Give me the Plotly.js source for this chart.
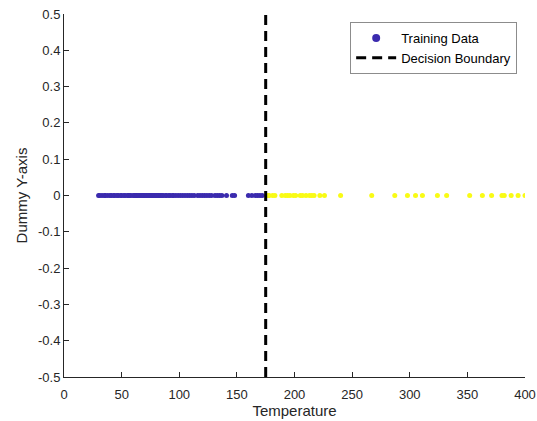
<!DOCTYPE html>
<html>
<head>
<meta charset="utf-8">
<script src="https://cdn.plot.ly/plotly-3.0.1.min.js"></script>
<style>html,body{margin:0;padding:0;background:#fff;}#chart{width:537px;height:421px;}</style>
</head>
<body>
<div id="chart"></div>
<script>
// Training data (temperature), class 0 (blue) and class 1 (yellow)
var tempClass0 = [30, 31, 33, 35, 36, 38, 40, 41, 43, 44, 46, 47, 49, 50, 52, 53, 55, 56, 57, 58, 60, 61, 62, 63, 64, 65, 66, 67, 68, 69, 70, 71, 72, 73, 74, 75, 76, 77, 78, 79, 80, 81, 82, 83, 84, 85, 86, 88, 89, 91, 92, 94, 95, 97, 99, 101, 103, 105, 107, 109, 111, 113, 116, 118, 120, 122, 124, 126, 128, 131, 133, 135, 137, 141, 146, 148, 160, 163, 166, 168, 170, 172];
var tempClass1 = [177, 178, 181, 183, 189, 192, 194, 196, 199, 201, 205, 207, 210, 213, 215, 217, 222, 226, 240, 267, 287, 298, 305, 311, 324, 332, 352, 363, 371, 380, 382, 388, 394, 400];
var decisionBoundary = 175;
var boundaryY = [-0.5, 0.5];
var xTicks = [0, 50, 100, 150, 200, 250, 300, 350, 400];
var yTicks = [-0.5, -0.4, -0.3, -0.2, -0.1, 0, 0.1, 0.2, 0.3, 0.4, 0.5];
var yTickText = ['-0.5', '-0.4', '-0.3', '-0.2', '-0.1', '0', '0.1', '0.2', '0.3', '0.4', '0.5'];

var blue = '#3B2BAE', yellow = '#F9FB15', axisCol = '#262626';
var zeros0 = tempClass0.map(function(){return 0;});
var zeros1 = tempClass1.map(function(){return 0;});

var traces = [
  {x: tempClass0, y: zeros0, type: 'scatter', mode: 'markers', showlegend: false,
   marker: {color: blue, size: 5}, hoverinfo: 'x'},
  {x: tempClass1, y: zeros1, type: 'scatter', mode: 'markers', showlegend: false,
   marker: {color: yellow, size: 5}, hoverinfo: 'x'},
  {x: [null], y: [null], type: 'scatter', mode: 'markers', name: 'Training Data',
   marker: {color: blue, size: 8}},
  {x: [decisionBoundary, decisionBoundary], y: boundaryY, type: 'scatter', mode: 'lines',
   name: 'Decision Boundary', line: {color: '#000', width: 3, dash: '10px,6px'}}
];

var layout = {
  width: 537, height: 421,
  margin: {l: 64, r: 12, t: 14, b: 44},
  paper_bgcolor: '#fff', plot_bgcolor: '#fff',
  font: {family: 'Liberation Sans, Arial, sans-serif', size: 13, color: axisCol},
  showlegend: true,
  legend: {x: 0.983, xanchor: 'right', y: 0.978, yanchor: 'top',
    bgcolor: '#fff', bordercolor: '#8c8c8c', borderwidth: 1, itemwidth: 40,
    font: {size: 13, color: '#000'}, tracegroupgap: 0},
  xaxis: {range: [0, 400], tickvals: xTicks, ticktext: xTicks.map(String),
    ticks: 'inside', ticklen: 5, tickcolor: axisCol, showgrid: false, zeroline: false,
    showline: true, linecolor: axisCol, linewidth: 1, mirror: false,
    ticklabelstandoff: 5,
    tickfont: {size: 13, color: axisCol},
    title: {text: 'Temperature', font: {size: 15, color: axisCol}, standoff: 1}},
  yaxis: {range: [-0.5, 0.5], tickvals: yTicks, ticktext: yTickText,
    ticks: 'inside', ticklen: 5, tickcolor: axisCol, showgrid: false, zeroline: false,
    showline: true, linecolor: axisCol, linewidth: 1, mirror: false,
    tickfont: {size: 13, color: axisCol},
    title: {text: 'Dummy Y-axis', font: {size: 15, color: axisCol}, standoff: 6}}
};

Plotly.newPlot('chart', traces, layout, {displayModeBar: false, staticPlot: true});
</script>
</body>
</html>
